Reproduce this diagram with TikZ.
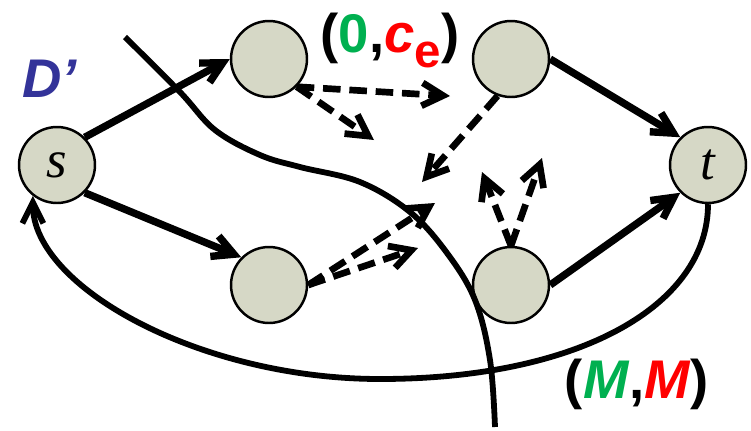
\documentclass[tikz,border=0pt]{standalone}
\usepackage{fontspec}
\setsansfont{Liberation Sans}
\newfontfamily\tnr{Liberation Serif}
\usetikzlibrary{arrows.meta}
\definecolor{vfill}{HTML}{D6D8C6}
\definecolor{cgreen}{HTML}{00B050}
\definecolor{cred}{HTML}{FF0000}
\definecolor{cblue}{HTML}{333399}

\begin{document}
\begin{tikzpicture}[x=0.02cm,y=-0.02cm,
    vert/.style={circle,draw,fill=vfill,line width=1.4pt,minimum size=1.52cm,inner sep=0pt,
      font=\tnr\itshape\fontsize{30}{30}\selectfont},
    fwd/.style={line width=4.2pt,-{Straight Barb[length=0.42cm,width=0.44cm]}},
    dsh/.style={line width=3.8pt,dash pattern=on 10pt off 5pt,-{Straight Barb[length=0.42cm,width=0.46cm]}},
    lbl/.style={font=\sffamily\bfseries\fontsize{31}{31}\selectfont,anchor=base,inner sep=0pt}]
  \useasboundingbox (0,0) rectangle (751,430);

  % vertices
  \node[vert] (s)  at (57,165)  {s};
  \node[vert] (tl) at (269,59)  {};
  \node[vert] (tr) at (511,59)  {};
  \node[vert] (bl) at (269,285) {};
  \node[vert] (br) at (511,285) {};
  \node[vert] (t)  at (708,165) {t};

  % labels
  \node[lbl,text=cblue] (dname) at (50,97) {\textit{D'}};
  \node[lbl] (top) at (390,52) {(\textcolor{cgreen}{0},\textcolor{cred}{\textit{c}\raisebox{-0.28em}{\fontsize{27}{27}\selectfont e}})};
  \node[lbl] (bot) at (637,398) {(\textcolor{cgreen}{\textit{M}},\textcolor{cred}{\textit{M}})};

  % the cut
  \draw[line width=3.3pt] plot[smooth,tension=0.6] coordinates {(125,37) (180,92) (215,130) (260,155)
    (300,167) (360,182) (410,212) (447,253) (475,300) (490,360) (495,427)};

  % solid arcs
  \draw[fwd] (s.45) -- (tl.west);
  \draw[fwd] (s.-45) -- (bl.135);
  \draw[fwd] (tr.east) -- (t.135);
  \draw[fwd] (br.east) -- (t.225);
  \draw[line width=3.3pt,-{Straight Barb[length=0.42cm,width=0.42cm]}] (t.south)
    .. controls (708,305) and (580,379) .. (380,379)
    .. controls (200,379) and (33,287) .. (s.232);

  % dashed arcs
  \coordinate (d1) at (450,96);
  \coordinate (d2) at (374,140);
  \coordinate (d3) at (422,182);
  \coordinate (d4) at (435,203);
  \coordinate (d5) at (418,248);
  \coordinate (d6) at (482,172);
  \coordinate (d7) at (542,158);
  \draw[dsh] (tl.-45) -- (d1);
  \draw[dsh] (tl.-45) -- (d2);
  \draw[dsh] (tr.250) -- (d3);
  \draw[dsh] (bl.east) -- (d4);
  \draw[dsh] (bl.east) -- (d5);
  \draw[dsh] (br.north) -- (d6);
  \draw[dsh] (br.north) -- (d7);
\end{tikzpicture}
\end{document}
